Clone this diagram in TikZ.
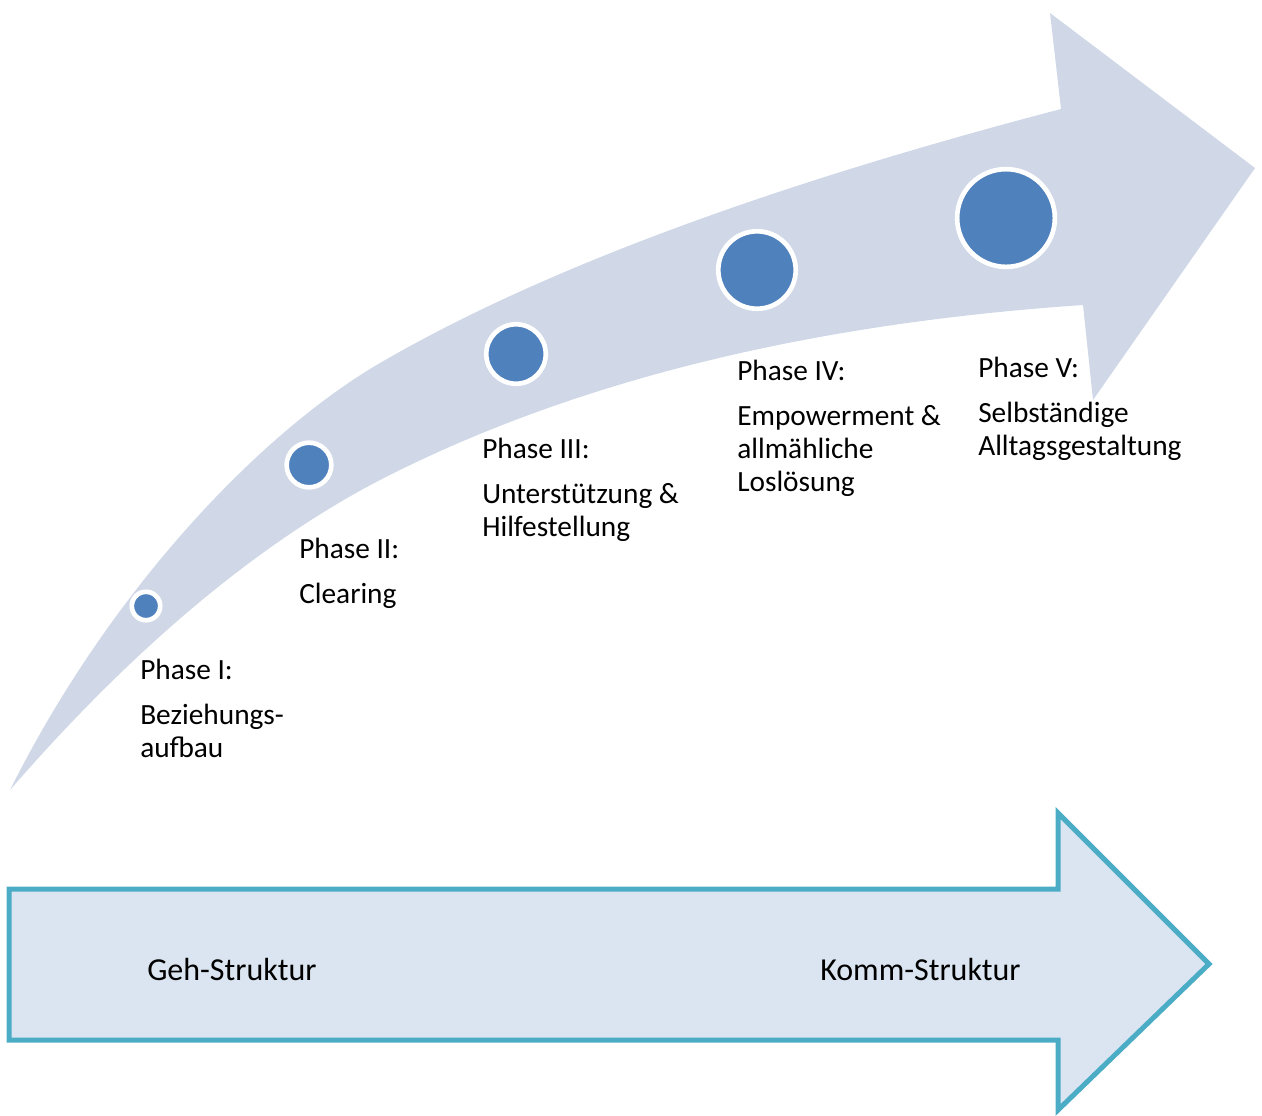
\documentclass[tikz,border=0pt]{standalone}
\usepackage{fontspec}
\setmainfont{Carlito}
\definecolor{bandblue}{HTML}{D0D8E8}
\definecolor{dotblue}{HTML}{4F81BD}
\definecolor{barfill}{HTML}{DBE5F1}
\definecolor{barline}{HTML}{4BACC6}
\begin{document}
\begin{tikzpicture}[x=0.75pt,y=-0.75pt,
    phase/.style={anchor=base west,align=left,inner sep=0pt,font=\fontsize{22}{24.75}\selectfont},
    barlabel/.style={anchor=base west,inner sep=0pt,font=\fontsize{24}{28}\selectfont},
    dot/.style={circle,fill=dotblue,draw=white,line width=3.5pt,inner sep=0pt}]
  \useasboundingbox (0,0) rectangle (1262,1115);
  % curved arrow
  \fill [bandblue] (10,790) .. controls (110,590) and (260,433) .. (380,363)
    .. controls (540,270) and (767,186) .. (1061,109)
    -- (1050,13) -- (1255,168) -- (1093,400) -- (1083,305)
    .. controls (803,324) and (569,383) .. (380,480)
    .. controls (259,543) and (135,646) .. (10,790) -- cycle;
  % phase dots
  \node [dot,minimum size=21.3pt] (dot1) at (146,606) {};
  \node [dot,minimum size=33.5pt] (dot2) at (309,465) {};
  \node [dot,minimum size=44.6pt] (dot3) at (516,354) {};
  \node [dot,minimum size=58.1pt] (dot4) at (757,270) {};
  \node [dot,minimum size=73.3pt] (dot5) at (1006,218) {};
  % labels (base = last line)
  \node [phase] (ph1) at (140,757) {Phase I:\\[9pt]Beziehungs-\\aufbau};
  \node [phase] (ph2) at (299,603) {Phase II:\\[9pt]Clearing};
  \node [phase] (ph3) at (482,536) {Phase III:\\[9pt]Unterstützung \&\\Hilfestellung};
  \node [phase] (ph4) at (737,491) {Phase IV:\\[9pt]Empowerment \&\\allmähliche\\Loslösung};
  \node [phase] (ph5) at (978,455) {Phase V:\\[9pt]Selbständige\\Alltagsgestaltung};
  % straight arrow
  \filldraw [fill=barfill,draw=barline,line width=3.75pt] (9,889) -- (1058,889) -- (1058,813) -- (1209,964) -- (1058,1110) -- (1058,1040) -- (9,1040) -- cycle;
  \node [barlabel] (geh) at (147,980) {Geh-Struktur};
  \node [barlabel] (komm) at (820,980) {Komm-Struktur};
\end{tikzpicture}
\end{document}
